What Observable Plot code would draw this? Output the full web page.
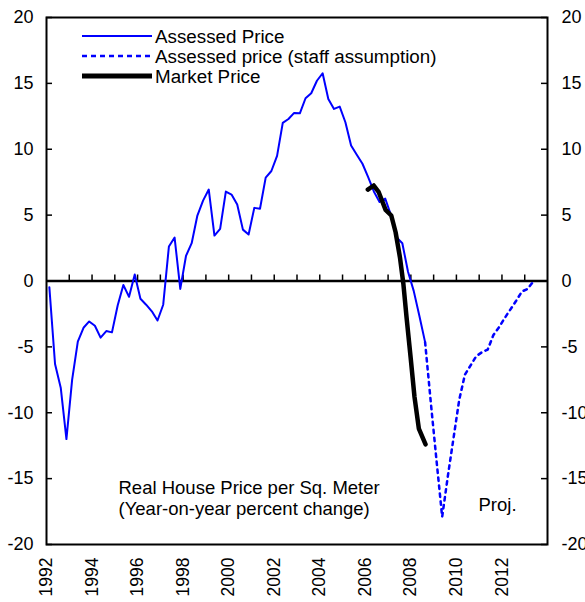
<!DOCTYPE html>
<html><head><meta charset="utf-8">
<script src="https://cdn.jsdelivr.net/npm/d3@7"></script>
<script src="https://cdn.jsdelivr.net/npm/@observablehq/plot@0.6"></script>
<style>body{margin:0;background:#fff;} #chart{position:relative;width:585px;height:602px;}</style>
</head><body><div id="chart"></div>
<script>
// Quarterly series start (1992 Q1 midpoint)
const startYear = 1992.125;
// Assessed price, y/y % change, quarterly 1992Q1..2008Q3
const assessed = [
  -0.47, -6.3, -8.1, -12.0, -7.5, -4.6, -3.55, -3.07, -3.4, -4.3, -3.8, -3.9,
  -1.86, -0.3, -1.2, 0.5, -1.35, -1.8, -2.3, -3.0, -1.8, 2.62, 3.3, -0.6,
  1.9, 2.87, 4.97, 6.1, 6.94, 3.45, 3.96, 6.79, 6.56, 5.8, 3.9, 3.53,
  5.55, 5.48, 7.85, 8.35, 9.5, 12.0, 12.3, 12.76, 12.73, 13.87, 14.25, 15.2,
  15.77, 13.82, 13.06, 13.24, 12.05, 10.28, 9.58, 8.9, 7.88, 6.8, 6.0, 6.25,
  5.0, 3.3, 2.87, 0.7, -0.75, -2.65, -4.64
];
// Staff assumption (projection), quarterly, starting at quarter index 66
const staffStartIndex = 66;
const staff = [
  -4.64, -9.2, -13.6, -17.9, -14.8, -11.9, -9.0, -7.1, -6.4, -5.7, -5.4, -5.2,
  -4.1, -3.5, -2.8, -2.15, -1.5, -0.8, -0.6, -0.05
];
// Market price
const marketDates = [2006.11, 2006.37, 2006.59, 2006.89, 2007.14, 2007.33, 2007.52, 2007.67, 2007.81, 2007.99, 2008.16, 2008.35, 2008.645];
const marketValues = [6.94, 7.25, 6.74, 5.4, 4.97, 3.7, 1.8, -0.2, -2.75, -5.8, -8.8, -11.2, -12.4];

const yTicks = [-20, -15, -10, -5, 0, 5, 10, 15, 20];
const xLabelYears = [1992, 1994, 1996, 1998, 2000, 2002, 2004, 2006, 2008, 2010, 2012];
const xMinorYears = [1993,1994,1995,1996,1997,1998,1999,2000,2001,2002,2003,2004,2005,2006,2007,2008,2009,2010,2011,2012,2013];
const legendLabels = ["Assessed Price", "Assessed price (staff assumption)", "Market Price"];
const noteText = "Real House Price per Sq. Meter\n(Year-on-year percent change)";
const projText = "Proj.";

const W = 585, H = 602, mL = 46, mR = 38, mT = 17, mB = 58;
const plotW = W - mL - mR, plotH = H - mT - mB;
const zeroFromTop = plotH * (20 - 0) / 40;

const assessedData = assessed.map((v, i) => ({date: startYear + i * 0.25, value: v}));
const staffData = staff.map((v, i) => ({date: startYear + (staffStartIndex + i) * 0.25, value: v}));
const marketData = marketDates.map((d, i) => ({date: d, value: marketValues[i]}));

const font = "'Liberation Sans', Arial, sans-serif";

const svg = Plot.plot({
  width: W, height: H,
  marginLeft: mL, marginRight: mR, marginTop: mT, marginBottom: mB,
  style: {fontFamily: font, background: "#fff", color: "#000"},
  x: {domain: [1992, 2014]},
  y: {domain: [-20, 20]},
  marks: [
    Plot.ruleY([0], {stroke: "#000", strokeWidth: 2.5}),
    Plot.tickY(yTicks, {y: d => d, insetRight: plotW - 6, stroke: "#000", strokeWidth: 1.5}),
    Plot.tickY(yTicks, {y: d => d, insetLeft: plotW - 6, stroke: "#000", strokeWidth: 1.5}),
    Plot.tickX(xMinorYears, {x: d => d, insetTop: zeroFromTop - 6, insetBottom: plotH - zeroFromTop, stroke: "#000", strokeWidth: 1.5}),
    Plot.line(assessedData, {x: "date", y: "value", stroke: "#0000ff", strokeWidth: 2}),
    Plot.line(staffData, {x: "date", y: "value", stroke: "#0000ff", strokeWidth: 2.5, strokeDasharray: "3.5,4.5"}),
    Plot.line(marketData, {x: "date", y: "value", stroke: "#000", strokeWidth: 4.5, strokeLinejoin: "round"}),
    Plot.frame({stroke: "#000", strokeWidth: 2}),
    Plot.axisY(yTicks, {anchor: "left", tickSize: 0, tickPadding: 13, fontSize: 18, label: null, tickFormat: d => String(d)}),
    Plot.axisY(yTicks, {anchor: "right", tickSize: 0, tickPadding: 14, fontSize: 18, label: null, tickFormat: d => String(d)}),
    Plot.axisX(xLabelYears, {anchor: "bottom", tickSize: 0, tickPadding: 13, tickRotate: -90, fontSize: 17.5, tickFormat: d => String(d), label: null}),
    Plot.text([noteText], {text: d => d, frameAnchor: "top-left", dx: 72, dy: 480, textAnchor: "start", lineAnchor: "middle", lineHeight: 1.16, fontSize: 18.5, fill: "#000"}),
    Plot.text([projText], {text: d => d, frameAnchor: "top-left", dx: 432, dy: 488, textAnchor: "start", lineAnchor: "middle", fontSize: 18.5, fill: "#000"})
  ]
});

// Legend inside the plot area
const g = d3.select(svg).append("g");
const legendStyles = [
  {stroke: "#0000ff", width: 2, dash: null},
  {stroke: "#0000ff", width: 2.5, dash: "5,4"},
  {stroke: "#000", width: 5, dash: null}
];
legendLabels.forEach((lab, i) => {
  const y = 36 + i * 20;
  const s = legendStyles[i];
  g.append("line").attr("x1", 82).attr("x2", 152).attr("y1", y).attr("y2", y)
    .attr("stroke", s.stroke).attr("stroke-width", s.width)
    .attr("stroke-dasharray", s.dash);
  g.append("text").attr("x", 155).attr("y", y).attr("dy", "0.35em")
    .attr("text-anchor", "start")
    .attr("font-size", 18.8).attr("font-family", font).attr("fill", "#000").text(lab);
});

document.getElementById("chart").appendChild(svg);
</script>
</body></html>
